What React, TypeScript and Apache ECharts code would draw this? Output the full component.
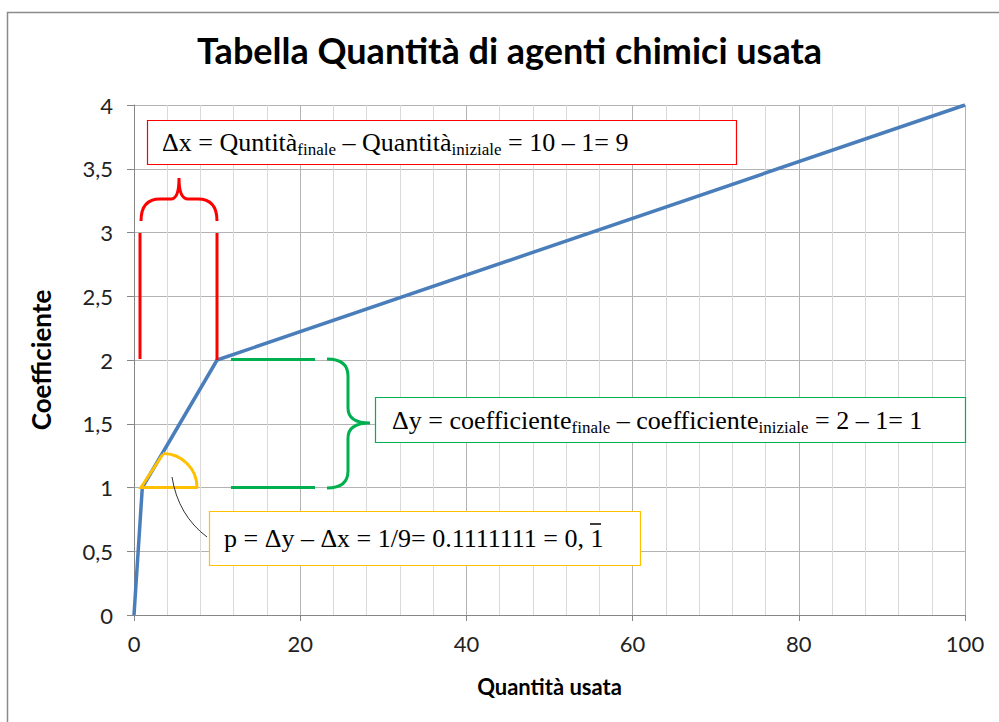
import React, { useEffect, useRef } from "react";
import * as echarts from "echarts";

const quantities = [0, 1, 10, 100];
const coefficients = [0, 1, 2, 4];
const xTicks = [0, 20, 40, 60, 80, 100];
const yTicks = [0, 0.5, 1, 1.5, 2, 2.5, 3, 3.5, 4];

const TITLE = "Tabella Quantità di agenti chimici usata";
const X_NAME = "Quantità usata";
const Y_NAME = "Coefficiente";

echarts.graphic.registerShape(
  "redBrace",
  echarts.graphic.extendPath(
    "M141,221 Q141,199 160,199 L171,199 Q179,199 179,178 Q179,199 188,199 L198,199 Q217,199 217,221",
    {}
  )
);
echarts.graphic.registerShape(
  "greenBrace",
  echarts.graphic.extendPath(
    "M327,359 Q348,359 348,376 L348,408 Q348,423 370,423 Q348,423 348,438 L348,471 Q348,488 327,488",
    {}
  )
);

export default function App() {
  const ref = useRef<HTMLDivElement>(null);
  useEffect(() => {
    document.body.style.margin = "0";
    const chart = echarts.init(ref.current!, null, { renderer: "svg" });
    const serif = "'Liberation Serif', 'Times New Roman', serif";
    const sans = "Lato, 'Open Sans', sans-serif";
    const main = { fontSize: 26, fontFamily: serif, color: "#000", lineHeight: 32 };
    const sub = { fontSize: 17, fontFamily: serif, color: "#000", lineHeight: 17, padding: [15, 0, 0, 0] };
    chart.setOption({
      animation: false,
      backgroundColor: "#fff",
      title: {
        text: TITLE,
        left: 192,
        top: 27,
        textStyle: { fontFamily: sans, fontWeight: "bold", fontSize: 36, color: "#000" },
      },
      grid: { left: 134, right: 34, top: 105, bottom: 107 },
      xAxis: {
        type: "value",
        min: 0,
        max: 100,
        interval: 20,
        name: X_NAME,
        nameLocation: "middle",
        nameGap: 60,
        nameTextStyle: { fontFamily: sans, fontWeight: "bold", fontSize: 22, color: "#000" },
        axisLine: { show: true, lineStyle: { color: "#868686", width: 1 } },
        axisTick: { show: true, length: 6, lineStyle: { color: "#868686" } },
        axisLabel: {
          margin: 17,
          fontFamily: sans,
          fontSize: 22,
          color: "#222",
          customValues: xTicks,
        },
        splitLine: { show: true, lineStyle: { color: "#b3b3b3", width: 1 } },
        minorTick: { show: false, splitNumber: 5 },
        minorSplitLine: { show: true, lineStyle: { color: "#d9d9d9", width: 1 } },
      },
      yAxis: {
        type: "value",
        min: 0,
        max: 4,
        interval: 0.5,
        name: Y_NAME,
        nameLocation: "middle",
        nameGap: 80,
        nameTextStyle: { fontFamily: sans, fontWeight: "bold", fontSize: 26, color: "#000" },
        axisLine: { show: true, lineStyle: { color: "#868686", width: 1 } },
        axisTick: { show: true, length: 7, lineStyle: { color: "#868686" } },
        axisLabel: {
          margin: 21,
          fontFamily: sans,
          fontSize: 22,
          color: "#222",
          formatter: (v: number) => (yTicks.includes(v) ? String(v).replace(".", ",") : ""),
        },
        splitLine: { show: true, lineStyle: { color: "#b3b3b3", width: 1 } },
      },
      series: [
        {
          type: "line",
          data: quantities.map((q, i) => [q, coefficients[i]]),
          symbol: "none",
          lineStyle: { color: "#4a7ebb", width: 3.5 },
          z: 3,
        },
      ],
      graphic: [
        {
          type: "rect",
          shape: { x: 7.5, y: 12.5, width: 1010, height: 730 },
          style: { fill: "none", stroke: "#8a8a8a", lineWidth: 1.5 },
          silent: true,
          z: 1,
        },
        {
          type: "line",
          shape: { x1: 140, y1: 233, x2: 140, y2: 359 },
          style: { stroke: "#ff0000", lineWidth: 3 },
          z: 10,
        },
        {
          type: "line",
          shape: { x1: 217, y1: 233, x2: 217, y2: 360 },
          style: { stroke: "#ff0000", lineWidth: 3 },
          z: 10,
        },
        {
          type: "redBrace",
          x: 0,
          y: 0,
          style: { fill: "none", stroke: "#ff0000", lineWidth: 3 },
          z: 10,
        },
        {
          type: "line",
          shape: { x1: 231, y1: 359.5, x2: 315, y2: 359.5 },
          style: { stroke: "#00b050", lineWidth: 3 },
          z: 10,
        },
        {
          type: "line",
          shape: { x1: 231, y1: 487.5, x2: 315, y2: 487.5 },
          style: { stroke: "#00b050", lineWidth: 3 },
          z: 10,
        },
        {
          type: "greenBrace",
          x: 0,
          y: 0,
          style: { fill: "none", stroke: "#00b050", lineWidth: 3 },
          z: 10,
        },
        {
          type: "polyline",
          shape: { points: [[198, 487.5], [141, 487.5], [163, 454]] },
          style: { fill: "none", stroke: "#ffc000", lineWidth: 3 },
          z: 10,
        },
        {
          type: "arc",
          shape: { cx: 163, cy: 487.5, r: 34, startAngle: -Math.PI / 2, endAngle: 0 },
          style: { fill: "none", stroke: "#ffc000", lineWidth: 3 },
          z: 10,
        },
        {
          type: "bezierCurve",
          shape: { x1: 172, y1: 477, cpx1: 178, cpy1: 515, x2: 207, y2: 537 },
          style: { fill: "none", stroke: "#333", lineWidth: 1 },
          z: 10,
        },
        {
          type: "rect",
          shape: { x: 147.5, y: 120.5, width: 589, height: 44 },
          style: { fill: "#fff", stroke: "#ff0000", lineWidth: 1.2 },
          z: 11,
        },
        {
          type: "text",
          x: 162,
          y: 142,
          style: {
            text: "{m|Δx = Quntità}{s|finale}{m| – Quantità}{s|iniziale}{m| = 10 – 1= 9}",
            verticalAlign: "middle",
            align: "left",
            rich: { m: main, s: sub },
          },
          z: 12,
        },
        {
          type: "rect",
          shape: { x: 375.5, y: 397.5, width: 590, height: 45 },
          style: { fill: "#fff", stroke: "#00b050", lineWidth: 1.2 },
          z: 11,
        },
        {
          type: "text",
          x: 392,
          y: 420,
          style: {
            text: "{m|Δy = coefficiente}{s|finale}{m| – coefficiente}{s|iniziale}{m| = 2 – 1= 1}",
            verticalAlign: "middle",
            align: "left",
            rich: { m: main, s: sub },
          },
          z: 12,
        },
        {
          type: "rect",
          shape: { x: 209.5, y: 511.5, width: 431, height: 54 },
          style: { fill: "#fff", stroke: "#ffc000", lineWidth: 1.2 },
          z: 11,
        },
        {
          type: "text",
          x: 224,
          y: 538,
          style: {
            text: "p = Δy – Δx = 1/9= 0.1111111 = 0, 1",
            verticalAlign: "middle",
            align: "left",
            fontSize: 26,
            fontFamily: serif,
            fill: "#000",
          },
          z: 12,
        },
        {
          type: "line",
          shape: { x1: 590, y1: 524, x2: 601, y2: 524 },
          style: { stroke: "#000", lineWidth: 1.5 },
          z: 12,
        },
      ],
    });
    return () => chart.dispose();
  }, []);
  return <div ref={ref} style={{ width: 999, height: 722 }} />;
}
